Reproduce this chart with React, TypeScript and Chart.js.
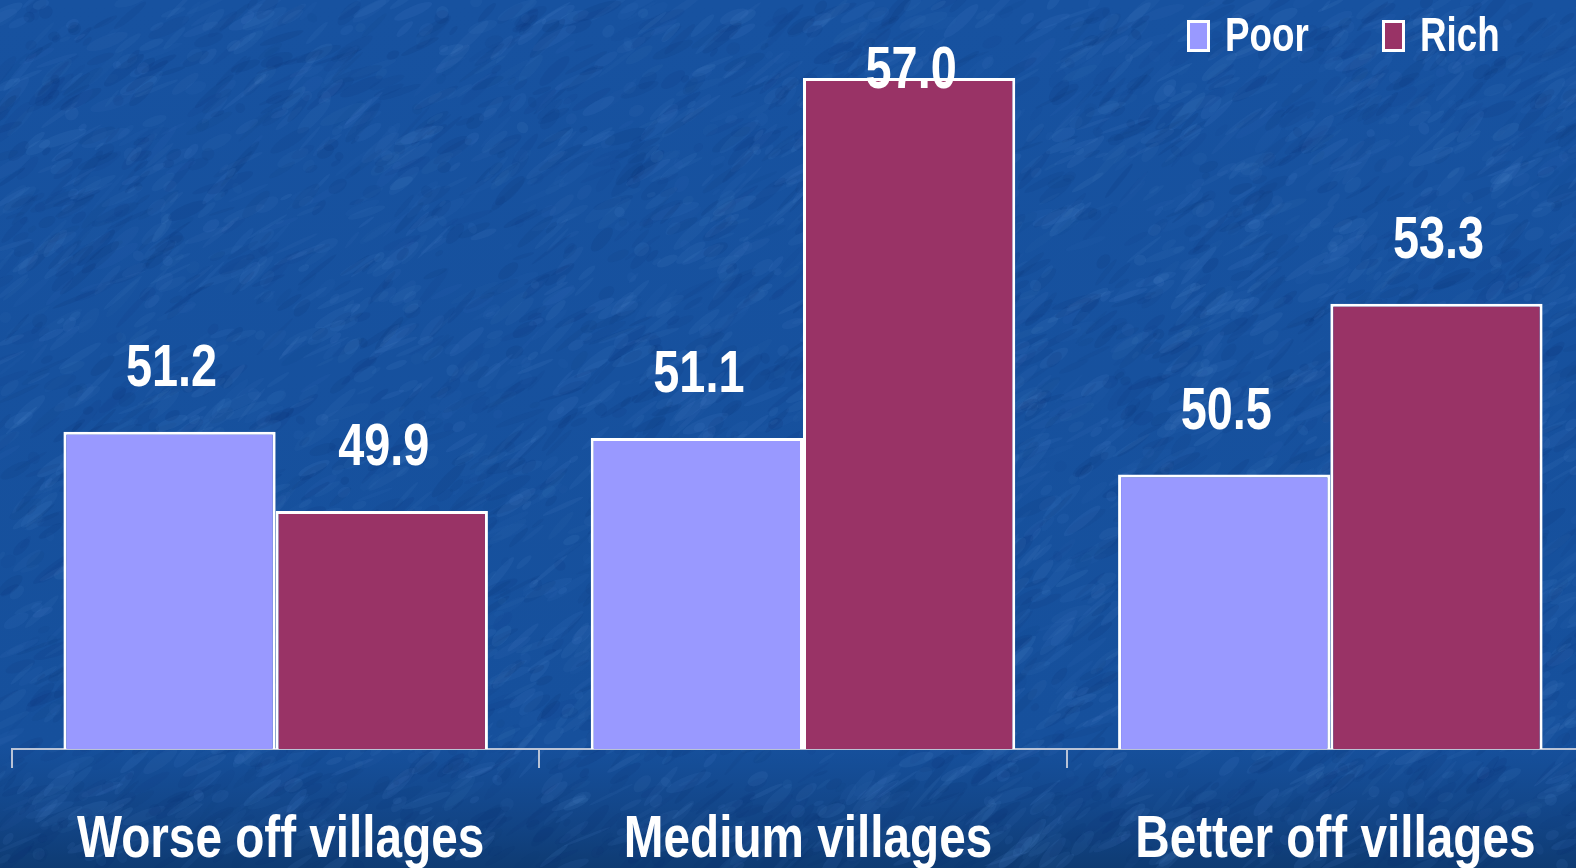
import React, { useEffect, useRef } from "react";
import { Chart, registerables } from "chart.js";

Chart.register(...registerables);

// ---- data ----
const categories = ["Worse off villages", "Medium villages", "Better off villages"];
const seriesNames = ["Poor", "Rich"];
const poorValues = [51.2, 51.1, 50.5];
const richValues = [49.9, 57.0, 53.3];
const yMin = 46;
const yMax = 58;

// ---- styles ----
const POOR = "#9999FF";
const RICH = "#993366";
const FONT = '"Liberation Sans", Arial, sans-serif';
const AXIS_GREY = "#b9c3d6";

function narrowText(ctx: CanvasRenderingContext2D, text: string, x: number, y: number, align: CanvasTextAlign, k: number) {
  ctx.save();
  ctx.translate(x, y);
  ctx.scale(k, 1);
  ctx.textAlign = align;
  ctx.textBaseline = "alphabetic";
  ctx.fillText(text, 0, 0);
  ctx.restore();
}

const backgroundPlugin = {
  id: "bgTexture",
  beforeDraw(chart: any) {
    const { ctx, width, height } = chart;
    ctx.save();
    const g = ctx.createLinearGradient(0, 0, 0, height);
    g.addColorStop(0, "#1752a0");
    g.addColorStop(0.86, "#16509c");
    g.addColorStop(0.95, "#124485");
    g.addColorStop(1, "#0e3b73");
    ctx.fillStyle = g;
    ctx.fillRect(0, 0, width, height);
    let s = 987654321;
    const rnd = () => {
      s = (Math.imul(s, 1103515245) + 12345) >>> 0;
      return s / 4294967296;
    };
    for (let i = 0; i < 6000; i++) {
      const x = rnd() * width;
      const y = rnd() * height;
      const rx = 4 + rnd() * 22;
      const ry = 1.5 + rnd() * 5;
      const a = 0.04 + rnd() * 0.1;
      ctx.fillStyle = rnd() < 0.55 ? `rgba(80,135,205,${a})` : `rgba(10,45,110,${a})`;
      ctx.beginPath();
      ctx.ellipse(x, y, rx, ry, -0.6 + (rnd() - 0.5) * 0.6, 0, Math.PI * 2);
      ctx.fill();
    }
    ctx.restore();
  },
};

const categoryLabelPlugin = {
  id: "categoryLabels",
  afterDraw(chart: any) {
    const { ctx } = chart;
    const xScale = chart.scales.x;
    ctx.save();
    ctx.fillStyle = "#ffffff";
    ctx.font = `bold 60px ${FONT}`;
    categories.forEach((c, i) => {
      narrowText(ctx, c, xScale.getPixelForTick(i) + 5, 857, "center", 0.795);
    });
    ctx.restore();
  },
};

const valueLabelPlugin = {
  id: "valueLabels",
  afterDatasetsDraw(chart: any) {
    const { ctx } = chart;
    ctx.save();
    ctx.fillStyle = "#ffffff";
    ctx.font = `bold 60px ${FONT}`;
    chart.data.datasets.forEach((ds: any, di: number) => {
      const meta = chart.getDatasetMeta(di);
      meta.data.forEach((bar: any, i: number) => {
        const y = Math.max(bar.y - 46, 88);
        narrowText(ctx, Number(ds.data[i]).toFixed(1), bar.x + 2, y, "center", 0.78);
      });
    });
    ctx.restore();
  },
};

const legendPlugin = {
  id: "customLegend",
  afterDraw(chart: any) {
    const { ctx } = chart;
    const boxXs = [1187, 1382];
    ctx.save();
    chart.data.datasets.forEach((ds: any, i: number) => {
      const bx = boxXs[i];
      ctx.fillStyle = "#ffffff";
      ctx.fillRect(bx, 20, 23, 32);
      ctx.fillStyle = ds.backgroundColor;
      ctx.fillRect(bx + 3, 23, 17, 26);
      ctx.fillStyle = "#ffffff";
      ctx.font = `bold 49px ${FONT}`;
      narrowText(ctx, ds.label, bx + 38, 51, "left", 0.75);
    });
    ctx.restore();
  },
};

export default function App() {
  const ref = useRef<HTMLCanvasElement | null>(null);

  useEffect(() => {
    if (!ref.current) return;
    const chart = new Chart(ref.current, {
      type: "bar",
      data: {
        labels: categories,
        datasets: [
          {
            label: seriesNames[0],
            data: poorValues,
            backgroundColor: POOR,
            borderColor: "#ffffff",
            borderWidth: 3,
            borderSkipped: false,
            barPercentage: 1,
            categoryPercentage: 0.805,
          },
          {
            label: seriesNames[1],
            data: richValues,
            backgroundColor: RICH,
            borderColor: "#ffffff",
            borderWidth: 3,
            borderSkipped: false,
            barPercentage: 1,
            categoryPercentage: 0.805,
          },
        ],
      },
      options: {
        responsive: false,
        animation: false,
        devicePixelRatio: 1,
        layout: { padding: { left: 12, right: 6, top: 17, bottom: 100 } },
        plugins: {
          legend: { display: false },
          tooltip: { enabled: false },
        },
        scales: {
          x: {
            grid: {
              display: true,
              drawOnChartArea: false,
              drawTicks: true,
              tickLength: 19,
              color: AXIS_GREY,
              lineWidth: 2,
              offset: true,
            },
            border: { display: true, color: AXIS_GREY, width: 2 },
            ticks: { display: false },
          },
          y: { display: false, min: yMin, max: yMax },
        },
      },
      plugins: [backgroundPlugin, valueLabelPlugin, categoryLabelPlugin, legendPlugin],
    } as any);
    return () => chart.destroy();
  }, []);

  return (
    <div style={{ position: "fixed", left: 0, top: 0, width: 1576, height: 868, overflow: "hidden" }}>
      <canvas ref={ref} width={1600} height={868} style={{ display: "block" }} />
    </div>
  );
}
